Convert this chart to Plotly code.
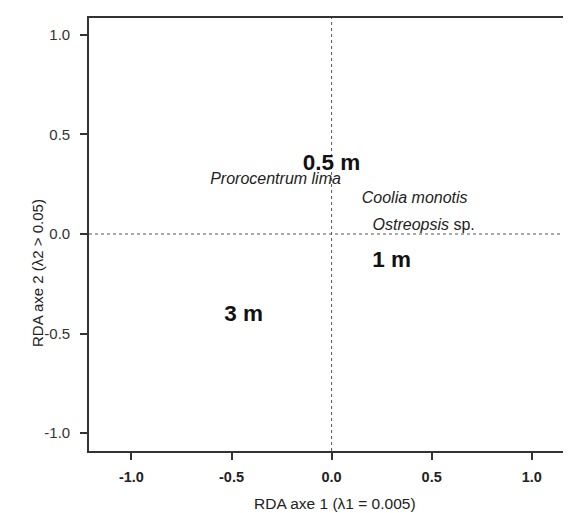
import plotly.graph_objects as go

# Data
site_labels = ["0.5 m", "1 m", "3 m"]
site_x = [0.0, 0.30, -0.44]
site_y = [0.35, -0.135, -0.41]

species_labels = ["<i>Prorocentrum lima</i>", "<i>Coolia monotis</i>", "<i>Ostreopsis</i> sp."]
species_x = [-0.28, 0.415, 0.46]
species_y = [0.27, 0.175, 0.04]

tick_vals = [-1.0, -0.5, 0.0, 0.5, 1.0]
tick_text = ["-1.0", "-0.5", "0.0", "0.5", "1.0"]

font_family = "Liberation Sans, Arial, sans-serif"

fig = go.Figure()
fig.add_trace(go.Scatter(
    x=species_x, y=species_y, text=species_labels, mode="text",
    textfont=dict(family=font_family, size=16, color="#222222"),
    textposition="middle center", hoverinfo="skip", showlegend=False))
fig.add_trace(go.Scatter(
    x=site_x, y=site_y, text=["<b>%s</b>" % s for s in site_labels], mode="text",
    textfont=dict(family=font_family, size=22.5, color="#111111"),
    textposition="middle center", hoverinfo="skip", showlegend=False))

# dotted reference lines
fig.add_shape(type="line", xref="x", yref="paper", x0=0, x1=0, y0=0, y1=1,
              line=dict(color="#555555", width=1, dash="dot"), layer="below")
fig.add_shape(type="line", xref="paper", yref="y", x0=0, x1=1, y0=0, y1=0,
              line=dict(color="#555555", width=1, dash="dot"), layer="below")

axis_common = dict(
    showgrid=False, zeroline=False, showline=True, linecolor="#333333", linewidth=1.6,
    mirror=True, ticks="outside", ticklen=7, tickwidth=1.5, tickcolor="#333333",
    tickvals=tick_vals, ticktext=tick_text,
)
fig.update_xaxes(range=[-1.212, 1.201], ticklabelstandoff=5,
                 tickfont=dict(family=font_family, size=14.5, color="#222222", weight="bold"),
                 **axis_common)
fig.update_yaxes(range=[-1.090, 1.085], ticklabelstandoff=7,
                 tickfont=dict(family=font_family, size=15, color="#333333"),
                 **axis_common)

fig.add_annotation(text="RDA axe 1 (λ1 = 0.005)", xref="paper", yref="paper",
                   x=0.509, y=0, yshift=-52, xanchor="center", yanchor="middle",
                   showarrow=False, font=dict(family=font_family, size=15.5, color="#222222"))
fig.add_annotation(text="RDA axe 2 (λ2 > 0.05)", xref="paper", yref="paper",
                   x=0, xshift=-52, y=0.411, xanchor="center", yanchor="middle",
                   textangle=-90, showarrow=False,
                   font=dict(family=font_family, size=15, color="#222222"))

fig.update_layout(
    width=571, height=513,
    margin=dict(l=81, r=5, t=10, b=70),
    plot_bgcolor="white", paper_bgcolor="white",
)

fig.write_html("out.html")
